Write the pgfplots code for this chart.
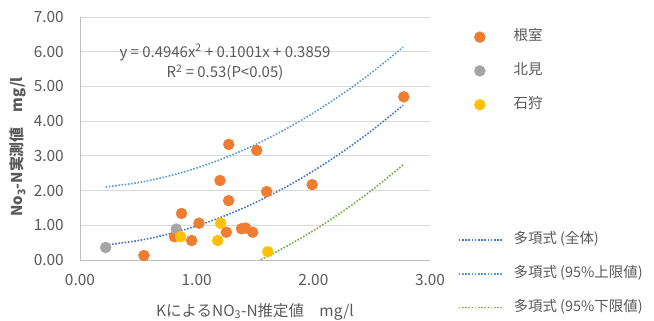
\documentclass[border=0pt]{standalone}
\usepackage{fontspec}
\setmainfont{Noto Sans CJK JP}
\usepackage{pgfplots}
\pgfplotsset{compat=1.18}
\definecolor{txt}{HTML}{595959}
\definecolor{cO}{HTML}{ED7D31}
\definecolor{cG}{HTML}{A5A5A5}
\definecolor{cY}{HTML}{FFC000}
\definecolor{cB}{HTML}{4472C4}
\definecolor{cL}{HTML}{5B9BD5}
\definecolor{cGr}{HTML}{70AD47}
\pgfplotsset{
  mymark/.style={only marks, color=#1, mark=*, mark size=5.5bp, mark options={solid, draw=#1, fill=#1},
    legend image code/.code={\draw[##1, mark repeat=2, mark phase=2] plot coordinates {(0bp,0bp)(21bp,0bp)(43bp,0bp)};}},
  mytrend/.style={no marks, smooth, draw=#1, line width=1.6bp, dash pattern=on 1.6bp off 1.6bp,
    legend image code/.code={\draw[##1] (0bp,0bp) -- (43bp,0bp);}},
}
\begin{document}
\begin{tikzpicture}
\useasboundingbox (0,0) rectangle (654bp,321bp);
\begin{axis}[
  at={(80bp,61bp)}, anchor=south west,
  scale only axis, width=350bp, height=243bp,
  xmin=0, xmax=3, ymin=0, ymax=7,
  xtick={0,1,2,3}, ytick={0,1,...,7},
  ymajorgrids, grid style={draw=black!15, line width=0.8bp},
  axis x line*=bottom, axis y line*=left,
  axis line style={draw=black!25, line width=0.8bp},
  major tick length=0,
  tick label style={font=\fontsize{15.5}{17}\selectfont, text=txt},
  xticklabel style={anchor=north, inner sep=0pt, yshift=-14bp},
  yticklabel style={anchor=east, inner sep=0pt, xshift=-16bp},
  /pgf/number format/.cd, fixed, fixed zerofill, precision=2, assume math mode=true, /pgfplots/.cd,
  xlabel={KによるNO\textsubscript{3}-N推定値\quad mg/l},
  ylabel={\bfseries No\textsubscript{3}-N実測値\quad mg/l},
  xlabel style={at={(axis description cs:0.5,-0.212)}, anchor=center, font=\fontsize{15.5}{17}\selectfont, text=txt},
  ylabel style={at={(axis description cs:-0.177,0.465)}, anchor=center, rotate=0, font=\fontsize{15}{17}\selectfont, text=txt},
  legend cell align=left,
  legend style={at={(1.071,0.953)}, anchor=north west, draw=none, fill=none,
    font=\fontsize{14.5}{16}\selectfont, text=txt, row sep=20.8bp,
    nodes={inner sep=0pt, text height=10bp, text depth=3bp},
    /tikz/every odd column/.append style={column sep=11bp}},
]
\addplot[mymark=cO] coordinates {
(0.548,0.13) (0.87,1.34) (0.81,0.67) (0.957,0.56) (1.02,1.06) (1.20,2.29)
(1.275,3.33) (1.274,1.71) (1.254,0.80) (1.384,0.90) (1.42,0.92) (1.48,0.80)
(1.515,3.16) (1.60,1.97) (1.99,2.17) (2.775,4.70)};
\addlegendentry{根室}
\addplot[mymark=cG] coordinates {(0.22,0.36) (0.825,0.89)};
\addlegendentry{北見}
\addplot[mymark=cY] coordinates {(0.862,0.67) (1.205,1.06) (1.18,0.56) (1.61,0.24)};
\addlegendentry{石狩}
\addlegendimage{empty legend}\addlegendentry{}
\addlegendimage{empty legend}\addlegendentry{}
\addlegendimage{empty legend}\addlegendentry{}
\addplot[mytrend=cB] coordinates {
(0.22,0.432) (0.5,0.560) (0.75,0.739) (1.0,0.981) (1.25,1.284) (1.5,1.649)
(1.75,2.076) (2.0,2.565) (2.25,3.115) (2.5,3.728) (2.77,4.458)};
\addlegendentry{多項式 (全体)}
\addplot[mytrend=cL] coordinates {
(0.22,2.102) (0.5,2.230) (0.75,2.409) (1.0,2.651) (1.25,2.954) (1.5,3.319)
(1.75,3.746) (2.0,4.235) (2.25,4.785) (2.5,5.398) (2.77,6.128)};
\addlegendentry{多項式 (95\%上限値)}
\addplot[mytrend=cGr] coordinates {
(1.55,0.009) (1.75,0.356) (2.0,0.845) (2.25,1.395) (2.5,2.008) (2.77,2.738)};
\addlegendentry{多項式 (95\%下限値)}
\node[font=\fontsize{15}{17}\selectfont, text=txt] at (axis cs:1.243,5.98) {y = 0.4946x\textsuperscript{2} + 0.1001x + 0.3859};
\node[font=\fontsize{15}{17}\selectfont, text=txt] at (axis cs:1.243,5.40) {R\textsuperscript{2} = 0.53(P<0.05)};
\end{axis}
\end{tikzpicture}
\end{document}
